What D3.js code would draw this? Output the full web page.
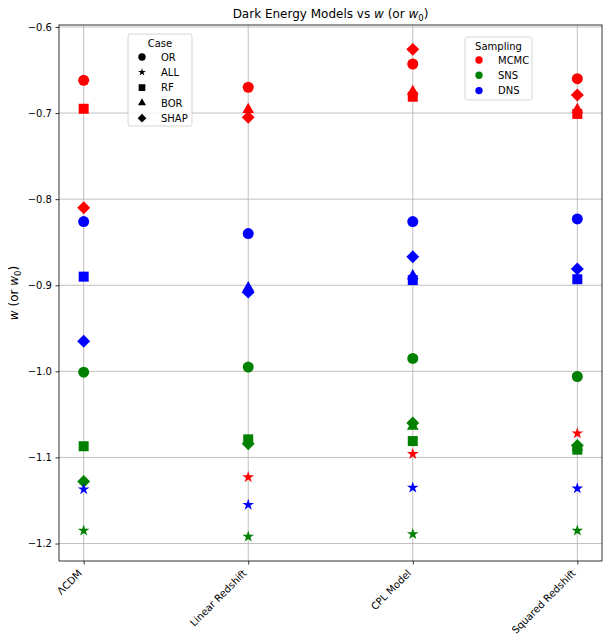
<!DOCTYPE html>
<html>
<head>
<meta charset="utf-8">
<script src="https://cdn.jsdelivr.net/npm/d3@7"></script>
<style>
  body { margin: 0; background: #fff; }
  svg { font-family: 'DejaVu Sans', sans-serif; }
</style>
</head>
<body>
<div id="chart"></div>
<script>
const models = ['ΛCDM', 'Linear Redshift', 'CPL Model', 'Squared Redshift']
const cases = ['OR', 'ALL', 'RF', 'BOR', 'SHAP']
const samplings = ['MCMC', 'SNS', 'DNS']
const yTicks = [-0.6, -0.7, -0.8, -0.9, -1.0, -1.1, -1.2]

// rows follow cases: OR, ALL, RF, BOR, SHAP ; columns follow models
const mcmcValues = [
  [-0.662, -0.670, -0.643, -0.660],
  [null, -1.123, -1.096, -1.072],
  [-0.695, null, -0.681, -0.701],
  [null, -0.696, -0.675, -0.696],
  [-0.810, -0.705, -0.626, -0.679]
]
const snsValues = [
  [-1.001, -0.995, -0.985, -1.006],
  [-1.185, -1.192, -1.189, -1.185],
  [-1.087, -1.079, -1.081, -1.091],
  [null, null, -1.064, -1.088],
  [-1.128, -1.084, -1.060, -1.086]
]
const dnsValues = [
  [-0.826, -0.840, -0.826, -0.823],
  [-1.137, -1.155, -1.135, -1.136],
  [-0.890, null, -0.894, -0.893],
  [null, -0.903, -0.889, null],
  [-0.965, -0.908, -0.867, -0.881]
]

const colors = { MCMC: '#ff0000', SNS: '#008000', DNS: '#0000ff' }
const valuesBySampling = { MCMC: mcmcValues, SNS: snsValues, DNS: dnsValues }

const width = 609
const height = 640
const margin = { top: 25, right: 7, bottom: 79, left: 59 }

const svg = d3.select('#chart')
  .append('svg')
  .attr('width', width)
  .attr('height', height)

// flatten to points, sampling outer loop so DNS is drawn last
const points = []
for (const s of samplings) {
  valuesBySampling[s].forEach((row, ci) => {
    row.forEach((v, mi) => {
      if (v !== null) points.push({ sampling: s, kase: cases[ci], model: mi, value: v })
    })
  })
}

const x = d3.scaleLinear()
  .domain([-0.15, models.length - 1 + 0.15])
  .range([margin.left, width - margin.right])

const ext = d3.extent(points, d => d.value)
const pad = (ext[1] - ext[0]) * 0.05
const y = d3.scaleLinear()
  .domain([ext[0] - pad, ext[1] + pad])
  .range([height - margin.bottom, margin.top])

const plotBottom = height - margin.bottom

// grid
const grid = svg.append('g')
grid.selectAll('line.gx')
  .data(models)
  .join('line')
  .attr('x1', (d, i) => x(i)).attr('x2', (d, i) => x(i))
  .attr('y1', margin.top).attr('y2', plotBottom)
  .attr('stroke', '#b0b0b0').attr('stroke-width', 0.8)
grid.selectAll('line.gy')
  .data(yTicks)
  .join('line')
  .attr('x1', margin.left).attr('x2', width - margin.right)
  .attr('y1', d => y(d)).attr('y2', d => y(d))
  .attr('stroke', '#b0b0b0').attr('stroke-width', 0.8)

// axes
const fmt = d => d3.format('.1f')(d).replace('-', '−')
svg.append('g')
  .attr('transform', `translate(${margin.left},0)`)
  .call(d3.axisLeft(y).tickValues(yTicks).tickFormat(fmt).tickSize(3.5).tickPadding(3.5))
  .call(g => g.select('.domain').remove())
  .call(g => g.selectAll('text').attr('font-size', 10).attr('font-family', 'DejaVu Sans').attr('fill', '#000'))
  .call(g => g.selectAll('line').attr('stroke-width', 0.8))

const xAxis = svg.append('g')
  .attr('transform', `translate(0,${plotBottom})`)
  .call(d3.axisBottom(x).tickValues(d3.range(models.length)).tickFormat(i => models[i]).tickSize(3.5))
  .call(g => g.select('.domain').remove())
  .call(g => g.selectAll('line').attr('stroke-width', 0.8))
xAxis.selectAll('text')
  .attr('font-size', 10)
  .attr('font-family', 'DejaVu Sans')
  .attr('fill', '#000')
  .attr('text-anchor', 'end')
  .attr('dy', null)
  .attr('y', null)
  .attr('transform', 'translate(-1.5,13) rotate(-45)')

svg.append('rect')
  .attr('x', margin.left).attr('y', margin.top)
  .attr('width', width - margin.right - margin.left)
  .attr('height', plotBottom - margin.top)
  .attr('fill', 'none').attr('stroke', '#000').attr('stroke-width', 0.8)

// marker shapes
const shapeFor = {
  OR: { type: d3.symbolCircle, size: 95, rot: 0 },
  ALL: { type: d3.symbolStar, size: 42, rot: 0 },
  RF: { type: d3.symbolSquare, size: 100, rot: 0 },
  BOR: { type: d3.symbolTriangle, size: 60, rot: 0 },
  SHAP: { type: d3.symbolSquare, size: 84, rot: 45 }
}
const markerPath = (kase, scale) => d3.symbol().type(shapeFor[kase].type).size(shapeFor[kase].size * scale)()

svg.append('g')
  .selectAll('path')
  .data(points)
  .join('path')
  .attr('d', d => markerPath(d.kase, 1))
  .attr('transform', d => `translate(${x(d.model)},${y(d.value)}) rotate(${shapeFor[d.kase].rot})`)
  .attr('fill', d => colors[d.sampling])

// title and y label
const title = svg.append('text')
  .attr('x', (margin.left + width - margin.right) / 2)
  .attr('y', 18)
  .attr('text-anchor', 'middle')
  .attr('font-size', 12)
title.append('tspan').text('Dark Energy Models vs ')
title.append('tspan').attr('font-style', 'italic').text('w')
title.append('tspan').text(' (or ')
title.append('tspan').attr('font-style', 'italic').text('w')
title.append('tspan').attr('font-size', 8.5).attr('dy', 3).text('0')
title.append('tspan').attr('dy', -3).text(')')

const ylab = svg.append('text')
  .attr('transform', `translate(18,${(margin.top + plotBottom) / 2}) rotate(-90)`)
  .attr('text-anchor', 'middle')
  .attr('font-size', 12)
ylab.append('tspan').attr('font-style', 'italic').text('w')
ylab.append('tspan').text(' (or ')
ylab.append('tspan').attr('font-style', 'italic').text('w')
ylab.append('tspan').attr('font-size', 8.5).attr('dy', 3).text('0')
ylab.append('tspan').attr('dy', -3).text(')')

// legends
const drawLegend = (left, top, w, h, titleText, items, markerFor, colorFor) => {
  const g = svg.append('g').attr('transform', `translate(${left},${top})`)
  g.append('rect')
    .attr('width', w).attr('height', h).attr('rx', 2.5)
    .attr('fill', '#fff').attr('fill-opacity', 0.8)
    .attr('stroke', '#cccccc').attr('stroke-width', 0.8)
  g.append('text')
    .attr('x', w / 2).attr('y', 13)
    .attr('text-anchor', 'middle').attr('font-size', 10)
    .text(titleText)
  items.forEach((item, i) => {
    const cy = 23 + i * 15.3
    g.append('path')
      .attr('d', markerFor(item))
      .attr('transform', `translate(14,${cy}) rotate(${item === 'SHAP' ? 45 : 0})`)
      .attr('fill', colorFor(item))
    g.append('text')
      .attr('x', 33).attr('y', cy + 3.6)
      .attr('font-size', 10)
      .text(item)
  })
}

drawLegend(128, 34, 64, 92, 'Case', cases, k => markerPath(k, 0.45), () => '#000')
drawLegend(465, 37, 67, 63, 'Sampling', samplings, () => markerPath('OR', 0.45), s => colors[s])
</script>
</body>
</html>
